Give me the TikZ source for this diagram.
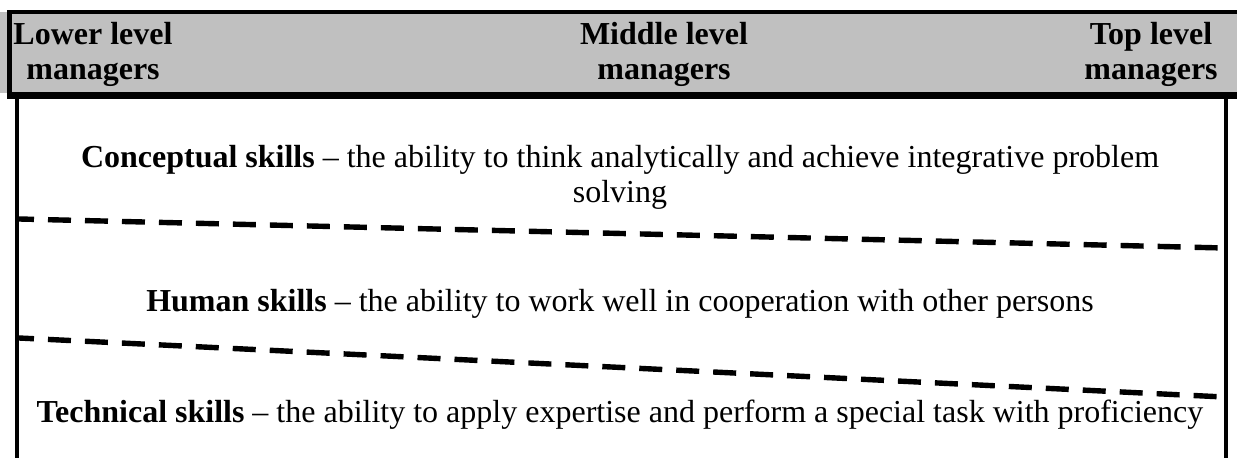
\documentclass[tikz,border=0pt]{standalone}
\usepackage{fontspec}
\setmainfont{Liberation Serif}
\definecolor{hdrgray}{RGB}{192,192,192}
\tikzset{
  skilltext/.style={anchor=base, align=center, font=\fontsize{16}{17.5}\selectfont},
  leveltext/.style={anchor=base, align=center, font=\fontsize{16}{17.5}\selectfont\bfseries},
  levelline/.style={line width=2.7pt, dash pattern=on 11.5pt off 7pt, dash phase=4pt}
}
\begin{document}
\begin{tikzpicture}[x=0.5pt, y=-0.5pt]
  \useasboundingbox (0,0) rectangle (1237,458);
  % header band
  \fill[hdrgray] (0,12) rectangle (1237,93);
  \draw[line width=2pt] (7,12) -- (1237,12);
  \draw[line width=3.5pt] (7,95.5) -- (1237,95.5);
  \draw[line width=2.5pt] (9.5,11) -- (9.5,99);
  \node[leveltext] (lower) at (93,80) {Lower level\\managers};
  \node[leveltext] (middle) at (664,80) {Middle level\\managers};
  \node[leveltext] (top) at (1151,80) {Top level\\managers};

  % body frame
  \draw[line width=2pt] (17,97) -- (17,458);
  \draw[line width=2pt] (1226,97) -- (1226,458);

  % skill borders
  \draw[levelline] (19,219) -- (1224,248);
  \draw[levelline] (19,338) -- (1224,397);

  \node[skilltext] (concept) at (620,203) {\textbf{Conceptual skills} -- the ability to think analytically and achieve integrative problem\\solving};
  \node[skilltext] (human) at (620,312) {\textbf{Human skills} -- the ability to work well in cooperation with other persons};
  \node[skilltext] (tech) at (620,423) {\textbf{Technical skills} -- the ability to apply expertise and perform a special task with proficiency};
\end{tikzpicture}
\end{document}
